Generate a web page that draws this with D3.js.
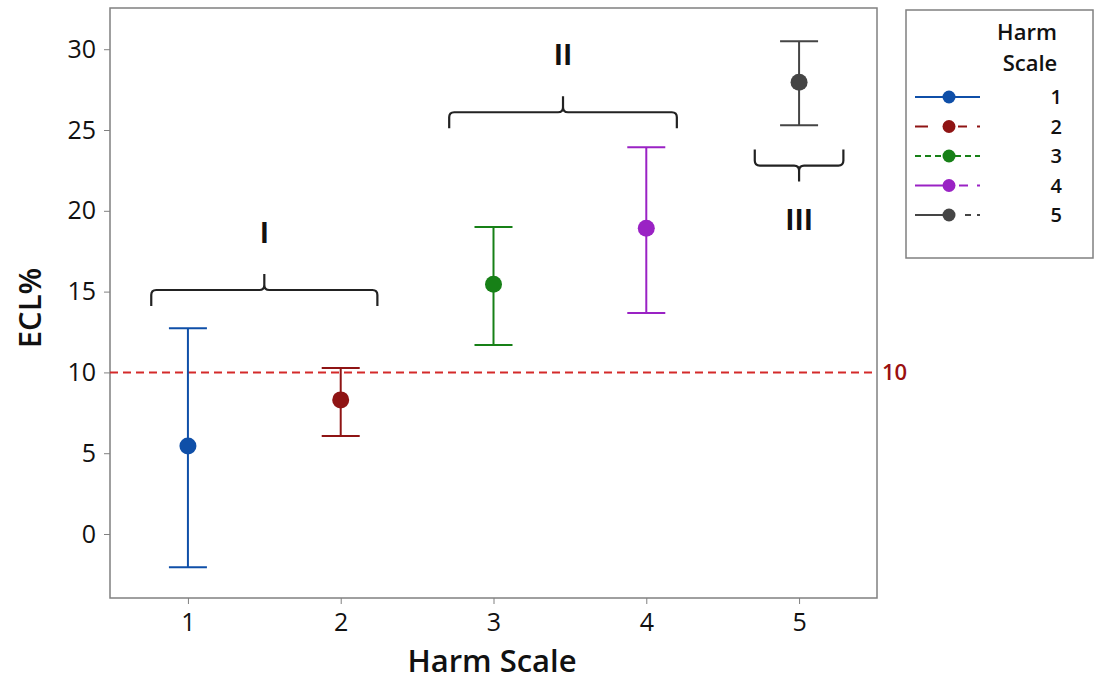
<!DOCTYPE html>
<html><head><meta charset="utf-8">
<script src="https://d3js.org/d3.v7.min.js"></script>
<style>body{margin:0;background:#fff}svg{display:block}text{font-family:"Open Sans","Noto Sans",sans-serif}</style>
</head><body>
<svg id="c" width="1104" height="683"></svg>
<script>
const categories = [1, 2, 3, 4, 5];
const means = [5.45, 8.3, 15.45, 18.92, 27.95];
const lowers = [-2.05, 6.07, 11.7, 13.67, 25.3];
const uppers = [12.73, 10.27, 19.0, 23.93, 30.5];
const colors = ["#0f4fa8", "#8f1414", "#178017", "#9a22c4", "#454545"];
const yTicks = [0, 5, 10, 15, 20, 25, 30];
const refValue = 10;
const groupLabels = ["I", "II", "III"];
const groupStart = [0.76, 2.71, 4.71];
const groupEnd = [2.24, 4.2, 5.29];
const groupY = [15.1, 26.1, 22.8];
const groupDir = [1, 1, -1];

const svg = d3.select("#c");
const L = 110, R = 877, T = 8, B = 598;
const x = d3.scaleLinear().domain([0.49, 5.51]).range([L, R]);
const y = d3.scaleLinear().domain([-3.96, 32.55]).range([B, T]);

// frame
svg.append("rect").attr("x", L).attr("y", T).attr("width", R - L).attr("height", B - T)
  .attr("fill", "none").attr("stroke", "#808080").attr("stroke-width", 1.5);

const ya = svg.append("g").attr("transform", `translate(${L},0)`)
  .call(d3.axisLeft(y).tickValues(yTicks).tickFormat(d3.format("d")).tickSize(6).tickPadding(8));
ya.select(".domain").remove();
ya.selectAll("line").attr("stroke", "#808080");
ya.selectAll("text").attr("font-size", 25).attr("fill", "#111");

const xa = svg.append("g").attr("transform", `translate(0,${B})`)
  .call(d3.axisBottom(x).tickValues(categories).tickFormat(d3.format("d")).tickSize(6).tickPadding(9));
xa.select(".domain").remove();
xa.selectAll("line").attr("stroke", "#808080");
xa.selectAll("text").attr("font-size", 25).attr("fill", "#111");

svg.append("text").attr("x", 492).attr("y", 672).attr("text-anchor", "middle")
  .attr("font-size", 31).attr("font-weight", 600).attr("fill", "#111").text("Harm Scale");
svg.append("text").attr("transform", `translate(41,308) rotate(-90)`)
  .attr("text-anchor", "middle").attr("font-size", 31).attr("font-weight", 600).attr("fill", "#111").text("ECL%");

// reference line
svg.append("line").attr("x1", L).attr("x2", R).attr("y1", y(refValue)).attr("y2", y(refValue))
  .attr("stroke", "#d42a2a").attr("stroke-width", 2).attr("stroke-dasharray", "8,5");
svg.append("text").attr("x", R + 5).attr("y", y(refValue) + 8).attr("font-size", 22)
  .attr("font-weight", 600).attr("fill", "#9a1010").text(refValue);

// error bars
const cap = 19;
categories.forEach((c, i) => {
  const g = svg.append("g").attr("stroke", colors[i]).attr("stroke-width", 2);
  g.append("line").attr("x1", x(c)).attr("x2", x(c)).attr("y1", y(lowers[i])).attr("y2", y(uppers[i]));
  g.append("line").attr("x1", x(c) - cap).attr("x2", x(c) + cap).attr("y1", y(lowers[i])).attr("y2", y(lowers[i]));
  g.append("line").attr("x1", x(c) - cap).attr("x2", x(c) + cap).attr("y1", y(uppers[i])).attr("y2", y(uppers[i]));
  svg.append("circle").attr("cx", x(c)).attr("cy", y(means[i])).attr("r", 8.5).attr("fill", colors[i]);
});

// braces
groupLabels.forEach((lab, i) => {
  const x0 = x(groupStart[i]), x1 = x(groupEnd[i]), yy = y(groupY[i]), d = groupDir[i];
  const xm = (x0 + x1) / 2, h = 16, r = 5;
  const p = `M${x0},${yy + d * h} L${x0},${yy + d * r} Q${x0},${yy} ${x0 + r},${yy} L${xm - r},${yy} Q${xm},${yy} ${xm},${yy - d * r} L${xm},${yy - d * h}`
    + ` M${xm},${yy - d * r} Q${xm},${yy} ${xm + r},${yy} L${x1 - r},${yy} Q${x1},${yy} ${x1},${yy + d * r} L${x1},${yy + d * h}`;
  svg.append("path").attr("d", p).attr("fill", "none").attr("stroke", "#222").attr("stroke-width", 2.2);
  const ty = d > 0 ? yy - 47 : yy + 64;
  svg.append("text").attr("x", xm).attr("y", ty).attr("text-anchor", "middle").attr("font-size", 28)
    .attr("font-weight", "bold").attr("fill", "#111").text(lab);
});

// legend
svg.append("rect").attr("x", 906).attr("y", 10).attr("width", 187).attr("height", 248)
  .attr("fill", "#fff").attr("stroke", "#808080").attr("stroke-width", 1.5);
svg.append("text").attr("x", 1027).attr("y", 40).attr("text-anchor", "middle").attr("font-size", 22)
  .attr("font-weight", 600).attr("fill", "#111").text("Harm");
svg.append("text").attr("x", 1030).attr("y", 71).attr("text-anchor", "middle").attr("font-size", 22)
  .attr("font-weight", 600).attr("fill", "#111").text("Scale");
const seg = (g, a, b, ly, col, dash) => {
  const l = g.append("line").attr("x1", a).attr("x2", b).attr("y1", ly).attr("y2", ly).attr("stroke", col).attr("stroke-width", 2);
  if (dash) l.attr("stroke-dasharray", dash);
};
categories.forEach((c, i) => {
  const ly = 97 + i * 29.5;
  const g = svg.append("g"), col = colors[i];
  if (i === 0) seg(g, 915, 980, ly, col);
  else if (i === 1) { seg(g, 915, 928, ly, col); seg(g, 958, 967, ly, col); seg(g, 977, 980, ly, col); }
  else if (i === 2) seg(g, 915, 980, ly, col, "6,4");
  else if (i === 3) { seg(g, 915, 943, ly, col); seg(g, 959, 968, ly, col); seg(g, 977, 980, ly, col); }
  else { seg(g, 915, 943, ly, col); seg(g, 965, 971, ly, col); seg(g, 977, 980, ly, col); }
  g.append("circle").attr("cx", 949).attr("cy", ly).attr("r", 6.5).attr("fill", col);
  svg.append("text").attr("x", 1062).attr("y", ly + 7).attr("text-anchor", "end").attr("font-size", 20)
    .attr("font-weight", 600).attr("fill", "#111").text(c);
});
</script>
</body></html>
